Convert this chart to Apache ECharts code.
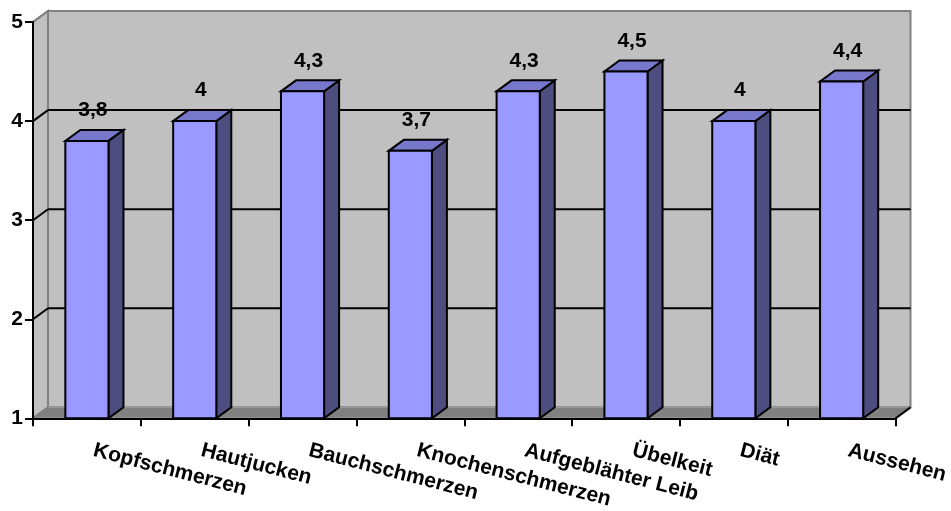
<!DOCTYPE html>
<html>
<head>
<meta charset="utf-8">
<script src="https://cdn.jsdelivr.net/npm/echarts@6/dist/echarts.min.js"></script>
<style>
html,body{margin:0;padding:0;background:#fff;}
#chart{width:951px;height:511px;}
</style>
</head>
<body>
<div id="chart"></div>
<script>
const categories = ['Kopfschmerzen','Hautjucken','Bauchschmerzen','Knochenschmerzen','Aufgeblähter Leib','Übelkeit','Diät','Aussehen'];
const values = [3.8, 4, 4.3, 3.7, 4.3, 4.5, 4, 4.4];
const yTicks = [1, 2, 3, 4, 5];

const DX = 15, DY = -11;
const FONT = 'Liberation Sans, Arial, sans-serif';

const chart = echarts.init(document.getElementById('chart'), null, {renderer: 'canvas'});

function wallsItem(params, api) {
  const cs = params.coordSys;
  const x = cs.x, y = cs.y, w = cs.width, h = cs.height;
  return {
    type: 'group',
    children: [
      {type: 'rect', shape: {x: x + DX, y: y + DY, width: w, height: h},
       style: {fill: '#c0c0c0', stroke: '#808080', lineWidth: 2}},
      {type: 'polygon', shape: {points: [[x, y], [x + DX, y + DY], [x + DX, y + h + DY], [x, y + h]]},
       style: {fill: '#c0c0c0', stroke: '#808080', lineWidth: 2}},
      {type: 'polygon', shape: {points: [[x, y + h], [x + DX, y + h + DY], [x + w + DX, y + h + DY], [x + w, y + h]]},
       style: {fill: '#808080', stroke: '#999999', lineWidth: 1.5}},
      {type: 'line', shape: {x1: x + w, y1: y + h, x2: x + w + DX, y2: y + h + DY},
       style: {stroke: '#000', lineWidth: 2}}
    ]
  };
}

function gridItem(params, api) {
  const cs = params.coordSys;
  const v = api.value(1);
  const p = api.coord([0, v]);
  const py = p[1];
  const edge = (v === yTicks[0] || v === yTicks[yTicks.length - 1]);
  const children = [
    {type: 'line', shape: {x1: cs.x, y1: py, x2: cs.x + DX, y2: py + DY},
     style: {stroke: edge ? '#808080' : '#000', lineWidth: 2}}
  ];
  if (!edge) {
    children.push({type: 'line', shape: {x1: cs.x + DX, y1: py + DY, x2: cs.x + cs.width + DX, y2: py + DY},
      style: {stroke: '#000', lineWidth: 2}});
  }
  return {type: 'group', children: children};
}

function barItem(params, api) {
  const i = api.value(0), v = api.value(1);
  const top = api.coord([i, v]);
  const base = api.coord([i, yTicks[0]]);
  const bw = api.size([1, 0])[0] * 0.4;
  const x0 = top[0] - bw / 2, x1 = top[0] + bw / 2;
  const ty = top[1], by = base[1];
  const stroke = {stroke: '#000', lineWidth: 2, lineJoin: 'miter'};
  const label = String(v).replace('.', ',');
  return {
    type: 'group',
    children: [
      {type: 'polygon', shape: {points: [[x1, ty], [x1 + DX, ty + DY], [x1 + DX, by + DY], [x1, by]]},
       style: Object.assign({fill: '#4d4d80'}, stroke)},
      {type: 'polygon', shape: {points: [[x0, ty], [x1, ty], [x1 + DX, ty + DY], [x0 + DX, ty + DY]]},
       style: Object.assign({fill: '#7777cc'}, stroke)},
      {type: 'rect', shape: {x: x0, y: ty, width: x1 - x0, height: by - ty},
       style: Object.assign({fill: '#9999ff'}, stroke)},
      {type: 'text', x: (x0 + x1) / 2 + DX * 0.4, y: ty + DY - 9,
       style: {text: label, fill: '#000', font: 'bold 21px ' + FONT, align: 'center', verticalAlign: 'bottom'}}
    ]
  };
}

const option = {
  backgroundColor: '#ffffff',
  animation: false,
  grid: {left: 33, right: 54, top: 22, bottom: 91, containLabel: false},
  xAxis: {
    type: 'category',
    data: categories,
    z: 10,
    axisLine: {show: true, lineStyle: {color: '#000', width: 2}},
    axisTick: {show: true, length: 8, interval: 0, lineStyle: {color: '#000', width: 2}},
    axisLabel: {
      interval: 0, rotate: -14.5, margin: 30, padding: [0, 0, 0, 7],
      color: '#000', fontFamily: FONT, fontWeight: 'bold', fontSize: 21
    },
    splitLine: {show: false}
  },
  yAxis: {
    type: 'value',
    min: 1, max: 5, interval: 1,
    z: 10,
    axisLine: {show: true, lineStyle: {color: '#000', width: 2}},
    axisTick: {show: true, length: 8, lineStyle: {color: '#000', width: 2}},
    axisLabel: {margin: 10, color: '#000', fontFamily: FONT, fontWeight: 'bold', fontSize: 21},
    splitLine: {show: false}
  },
  series: [
    {type: 'custom', name: 'walls', z: 1, clip: false, silent: true, data: [[0, yTicks[0]]], renderItem: wallsItem},
    {type: 'custom', name: 'grid', z: 2, clip: false, silent: true, data: yTicks.map(v => [0, v]), renderItem: gridItem},
    {type: 'custom', name: 'bars', z: 3, clip: false, data: values.map((v, i) => [i, v]), renderItem: barItem}
  ]
};
chart.setOption(option);
</script>
</body>
</html>
